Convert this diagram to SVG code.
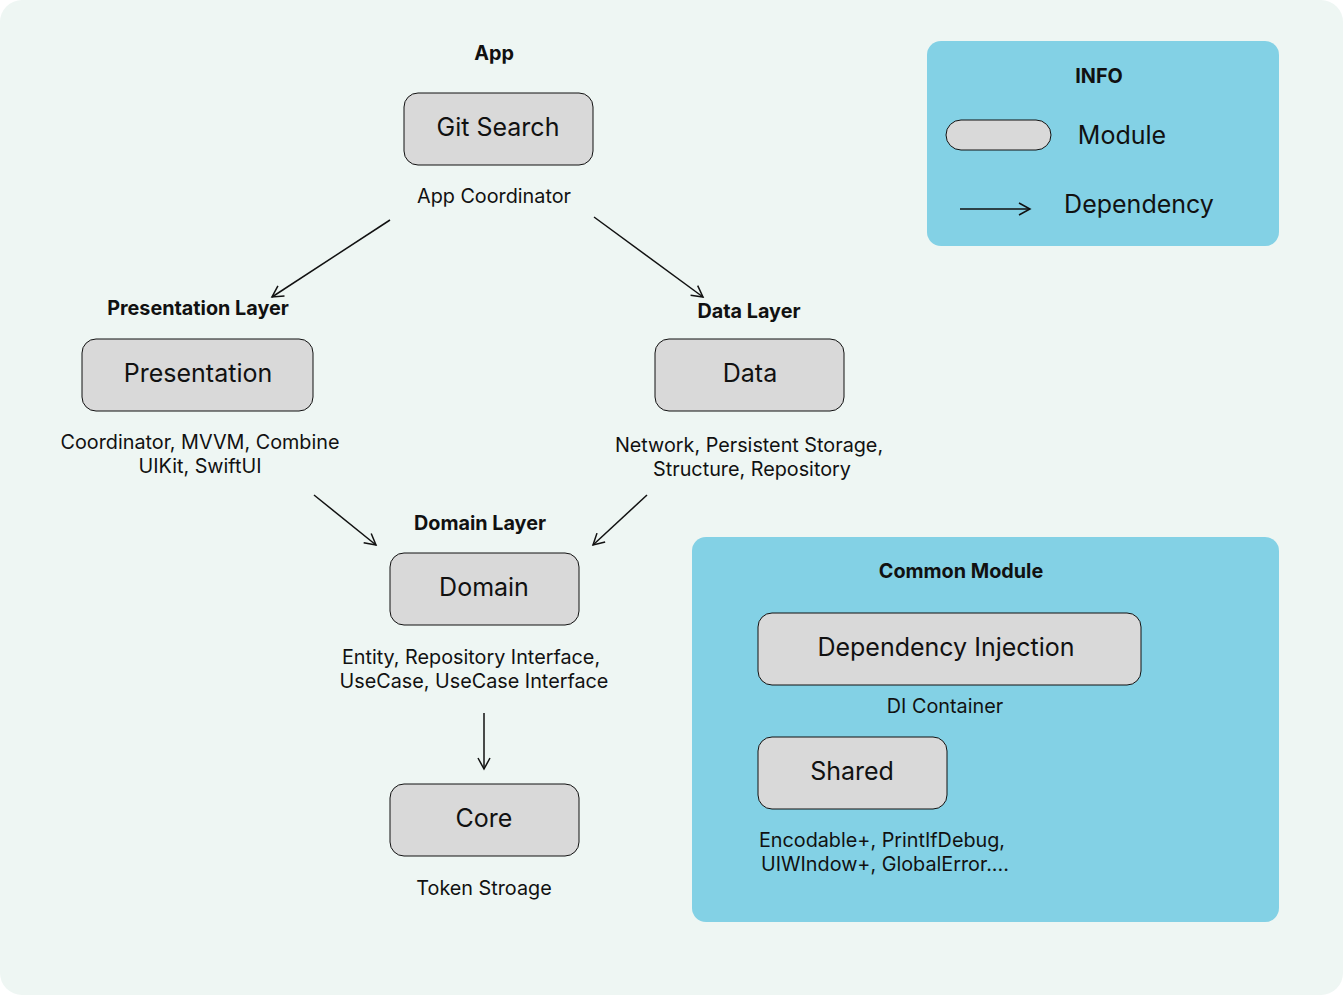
<svg xmlns="http://www.w3.org/2000/svg" width="1343" height="995" viewBox="0 0 1343 995">
<style>
text{font-family:Inter,"Noto Sans","Liberation Sans",sans-serif;fill:#111;text-anchor:middle}
.h{font-weight:700;font-size:19.8px}
.t{font-size:19.8px}
.n{font-size:25px}
.box{fill:#D9D9D9;stroke:#111;stroke-width:1}
.panel{fill:#83D1E5}
.c{stroke:#111;stroke-width:1.5;fill:none;marker-end:url(#a)}
</style>
<defs>
<marker id="a" viewBox="0 0 14 14" refX="12" refY="7" markerWidth="14" markerHeight="14" markerUnits="userSpaceOnUse" orient="auto">
<path d="M1,1 L12,7 L1,13" fill="none" stroke="#111" stroke-width="1.5"/>
</marker>
</defs>
<rect x="0" y="0" width="1343" height="995" fill="#fff"/>
<rect x="0" y="0" width="1343" height="995" rx="22" fill="#EEF6F3"/>

<g id="info">
<rect class="panel" x="927" y="41" width="352" height="205" rx="14"/>
<text class="h" x="1099" y="83">INFO</text>
<rect class="box" x="946" y="120" width="105" height="30" rx="15"/>
<text class="n" x="1122" y="144">Module</text>
<line x1="960" y1="209" x2="1030" y2="209" class="c"/>
<text class="n" x="1139" y="213">Dependency</text>
</g>

<g id="common">
<rect class="panel" x="692" y="537" width="587" height="385" rx="14"/>
<text class="h" x="961" y="578">Common Module</text>
</g>

<g id="app">
<text class="h" x="494" y="60">App</text>
<rect class="box" x="404" y="93" width="189" height="72" rx="14"/>
<text class="n" x="498" y="136">Git Search</text>
<text class="t" x="494" y="203">App Coordinator</text>
</g>

<g id="presentation">
<text class="h" x="198" y="315">Presentation Layer</text>
<rect class="box" x="82" y="339" width="231" height="72" rx="14"/>
<text class="n" x="198" y="382">Presentation</text>
<text class="t" x="200" y="449">Coordinator, MVVM, Combine</text>
<text class="t" x="200" y="473">UIKit, SwiftUI</text>
</g>

<g id="data">
<text class="h" x="749" y="318">Data Layer</text>
<rect class="box" x="655" y="339" width="189" height="72" rx="14"/>
<text class="n" x="750" y="382">Data</text>
<text class="t" x="749" y="452">Network, Persistent Storage,</text>
<text class="t" x="752" y="476">Structure, Repository</text>
</g>

<g id="domain">
<text class="h" x="480" y="530">Domain Layer</text>
<rect class="box" x="390" y="553" width="189" height="72" rx="14"/>
<text class="n" x="484" y="596">Domain</text>
<text class="t" x="471" y="664">Entity, Repository Interface,</text>
<text class="t" x="474" y="688">UseCase, UseCase Interface</text>
</g>

<g id="core">
<rect class="box" x="390" y="784" width="189" height="72" rx="14"/>
<text class="n" x="484" y="827">Core</text>
<text class="t" x="484" y="895">Token Stroage</text>
</g>

<g id="di">
<rect class="box" x="758" y="613" width="383" height="72" rx="14"/>
<text class="n" x="946" y="656">Dependency Injection</text>
<text class="t" x="945" y="713">DI Container</text>
</g>

<g id="shared">
<rect class="box" x="758" y="737" width="189" height="72" rx="14"/>
<text class="n" x="852" y="780">Shared</text>
<text class="t" x="882" y="847">Encodable+, PrintIfDebug,</text>
<text class="t" x="885" y="871">UIWIndow+, GlobalError....</text>
</g>

<g id="connectors">
<line class="c" x1="390" y1="220" x2="272" y2="297"/>
<line class="c" x1="594" y1="217" x2="703" y2="297"/>
<line class="c" x1="314" y1="495" x2="376" y2="545"/>
<line class="c" x1="647" y1="495" x2="593" y2="545"/>
<line class="c" x1="484" y1="713" x2="484" y2="769"/>
</g>
</svg>
